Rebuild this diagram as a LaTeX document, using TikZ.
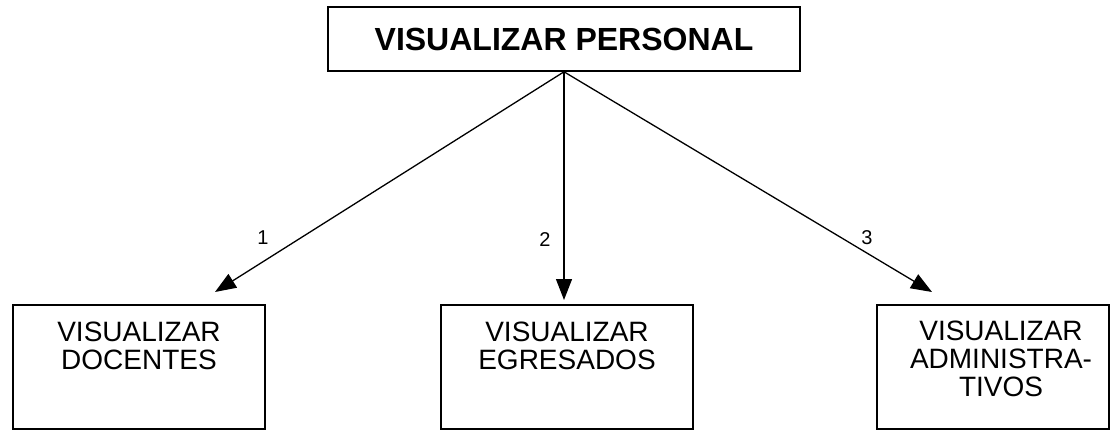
\documentclass[tikz,border=0pt]{standalone}
\usepackage{fontspec}
\setmainfont{Liberation Sans}
\usetikzlibrary{arrows.meta}
\begin{document}
\begin{tikzpicture}[x=1pt,y=-1pt,
  box/.style={draw,line width=1.6pt,inner sep=0pt,rectangle},
  boxtext/.style={anchor=north,inner sep=0pt,align=center,font=\fontsize{28}{28}\selectfont},
  conn/.style={line width=1.3pt,-{Triangle[length=21pt,width=16pt]}},
  num/.style={inner sep=0pt,font=\fontsize{20}{20}\selectfont}]
\useasboundingbox (0,0) rectangle (1113,430);
\node[box,minimum width=472pt,minimum height=64pt,font=\fontsize{32}{32}\selectfont\bfseries] (top) at (564,39) {VISUALIZAR PERSONAL};
\node[box,minimum width=252pt,minimum height=124pt] (b1) at (139,367) {};
\node[box,minimum width=252pt,minimum height=124pt] (b2) at (567,367) {};
\node[box,minimum width=232pt,minimum height=124pt] (b3) at (993,367) {};
\node[boxtext] (t1) at (139,322) {VISUALIZAR\\DOCENTES};
\node[boxtext] (t2) at (567,322) {VISUALIZAR\\EGRESADOS};
\node[boxtext] (t3) at (1001,321) {VISUALIZAR\\ADMINISTRA-\\TIVOS};
\coordinate (e1) at (215,292);
\coordinate (e2) at (564,300);
\coordinate (e3) at (932,292);
\draw[conn] (top.south) -- (e1);
\draw[conn] (top.south) -- (e2);
\draw[conn] (top.south) -- (e3);
\node[num] (l1) at (263,238) {1};
\node[num] (l2) at (545,240) {2};
\node[num] (l3) at (867,238) {3};
\end{tikzpicture}
\end{document}
